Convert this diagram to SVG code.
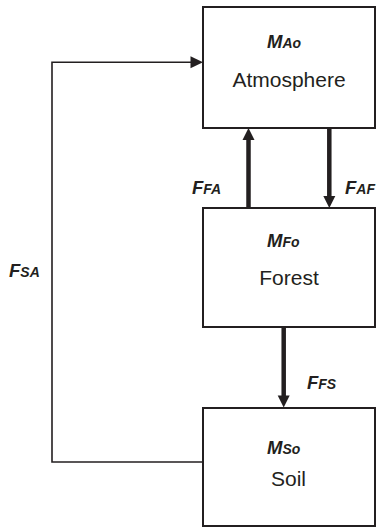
<svg xmlns="http://www.w3.org/2000/svg" width="377" height="528" viewBox="0 0 377 528">
<style>
.box{fill:#fff;stroke:#231f20;stroke-width:2}
.name{font-family:"Liberation Sans",Arial,sans-serif;font-size:21px;fill:#231f20;text-anchor:middle}
.sym{font-family:"Liberation Sans",Arial,sans-serif;font-size:18.5px;font-weight:bold;font-style:italic;fill:#231f20}
.sub{font-size:14px}
.thick{stroke:#231f20;stroke-width:4.5;fill:none}
.thin{stroke:#231f20;stroke-width:1.6;fill:none}
.head{fill:#231f20}
</style>
<rect width="377" height="528" fill="#fff"/>
<g id="connectors">
<line class="thick" x1="248.5" y1="208" x2="248.5" y2="139"/>
<polygon class="head" points="248.5,128 242.5,140 254.5,140"/>
<line class="thick" x1="329.3" y1="128" x2="329.3" y2="197"/>
<polygon class="head" points="329.3,208 323.3,196 335.3,196"/>
<line class="thick" x1="283.7" y1="327" x2="283.7" y2="396"/>
<polygon class="head" points="283.7,407.5 277.7,395.5 289.7,395.5"/>
<polyline class="thin" points="203,462 52,462 52,62.3 192,62.3"/>
<polygon class="head" points="203,62.3 190.5,56.3 190.5,68.3"/>
<text class="sym" x="192" y="194">F<tspan class="sub">FA</tspan></text>
<text class="sym" x="345" y="194">F<tspan class="sub">AF</tspan></text>
<text class="sym" x="307" y="389">F<tspan class="sub">FS</tspan></text>
<text class="sym" x="9" y="277">F<tspan class="sub">SA</tspan></text>
</g>
<g id="atmosphere">
<rect class="box" x="203" y="7" width="172" height="121"/>
<text class="sym" x="267" y="48">M<tspan class="sub">Ao</tspan></text>
<text class="name" x="289" y="87">Atmosphere</text>
</g>
<g id="forest">
<rect class="box" x="203" y="208" width="172" height="119"/>
<text class="sym" x="267" y="247">M<tspan class="sub">Fo</tspan></text>
<text class="name" x="289" y="285">Forest</text>
</g>
<g id="soil">
<rect class="box" x="203" y="408" width="172" height="118"/>
<text class="sym" x="267" y="454">M<tspan class="sub">So</tspan></text>
<text class="name" x="288.5" y="486">Soil</text>
</g>
</svg>
